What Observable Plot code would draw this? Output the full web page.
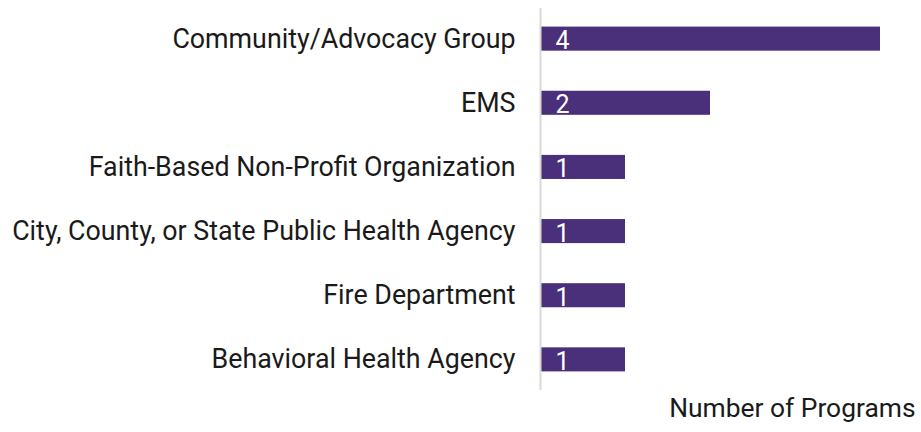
<!DOCTYPE html>
<html>
<head>
<meta charset="utf-8">
<script src="https://cdn.jsdelivr.net/npm/d3@7"></script>
<script src="https://cdn.jsdelivr.net/npm/@observablehq/plot@0.6"></script>
<style>
  html, body { margin: 0; padding: 0; background: #fff; }
</style>
</head>
<body>
<div id="chart"></div>
<script>
const categories = [
  "Community/Advocacy Group",
  "EMS",
  "Faith-Based Non-Profit Organization",
  "City, County, or State Public Health Agency",
  "Fire Department",
  "Behavioral Health Agency"
];
const counts = [4, 2, 1, 1, 1, 1];
const xTitle = "Number of Programs";

const data = categories.map((c, i) => ({category: c, count: counts[i]}));

const chart = Plot.plot({
  width: 921,
  height: 432,
  marginLeft: 540,
  marginRight: 41,
  marginTop: 8,
  marginBottom: 42,
  style: {fontFamily: "Roboto, sans-serif", fontSize: "26.8px", color: "#1a1a1a", background: "#fff"},
  x: {domain: [0, 4], axis: null},
  y: {domain: categories, paddingInner: 0.625, paddingOuter: 0.29, round: false, label: null},
  marks: [
    Plot.barX(data, {x: "count", y: "category", fill: "#4a2f7a"}),
    Plot.ruleX([0], {stroke: "#d9d9d9", strokeWidth: 2}),
    Plot.axisY({tickSize: 0, tickPadding: 25, fontSize: 26.8, label: null}),
    Plot.text(data, {x: 0, y: "category", text: d => String(d.count), textAnchor: "start", dx: 15, dy: 2, fill: "white", fontSize: 25}),
    Plot.text([xTitle], {frameAnchor: "bottom-right", text: d => d, textAnchor: "end", dx: 35, dy: 26, fontSize: 26.4, fill: "#1a1a1a"})
  ]
});
document.getElementById("chart").appendChild(chart);
</script>
</body>
</html>
